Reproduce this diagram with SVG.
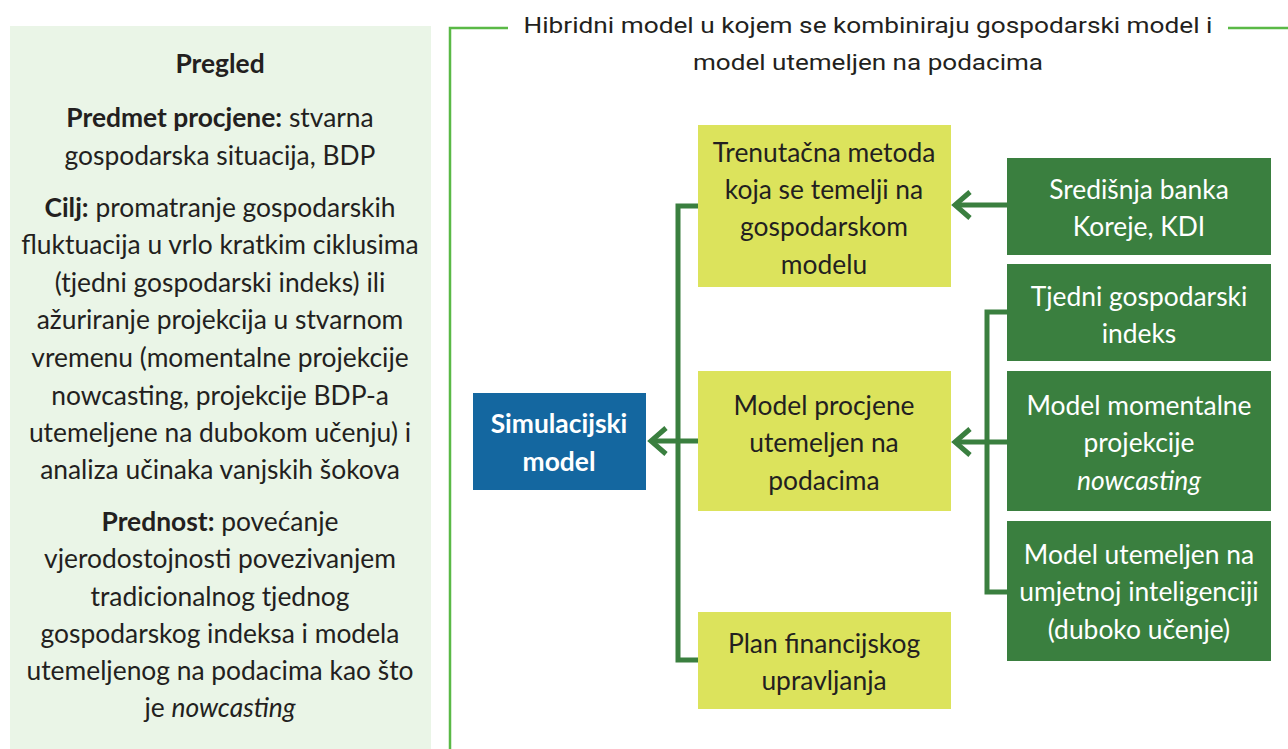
<svg xmlns="http://www.w3.org/2000/svg" width="1288" height="749" viewBox="0 0 1288 749">
<style>
text{font-family:Lato,"Open Sans","Liberation Sans",sans-serif;font-size:26.4px;fill:#231f20;text-anchor:middle}
.b{font-weight:bold}
.i{font-style:italic}
.w{fill:#ffffff}
.title{font-family:Roboto,"Liberation Sans",sans-serif;font-size:22px}
.y{fill:#dce35c}
.g{fill:#3a7f3f}
.conn{fill:none;stroke:#3a7f3f;stroke-width:5}
.frame{fill:none;stroke:#5ab946;stroke-width:2.5}
</style>
<rect width="1288" height="749" fill="#ffffff"/>
<g id="panel">
<rect x="10" y="26" width="421" height="723" fill="#eaf5e7"/>
<text x="220" y="73" class="b" font-size="25">Pregled</text>
<text x="220" y="127"><tspan class="b">Predmet procjene:</tspan> stvarna</text>
<text x="220" y="165">gospodarska situacija, BDP</text>
<text x="220" y="217"><tspan class="b">Cilj:</tspan> promatranje gospodarskih</text>
<text x="220" y="254">fluktuacija u vrlo kratkim ciklusima</text>
<text x="220" y="292">(tjedni gospodarski indeks) ili</text>
<text x="220" y="329">ažuriranje projekcija u stvarnom</text>
<text x="220" y="367">vremenu (momentalne projekcije</text>
<text x="220" y="405">nowcasting, projekcije BDP-a</text>
<text x="220" y="442">utemeljene na dubokom učenju) i</text>
<text x="220" y="479">analiza učinaka vanjskih šokova</text>
<text x="220" y="531"><tspan class="b">Prednost:</tspan> povećanje</text>
<text x="220" y="568">vjerodostojnosti povezivanjem</text>
<text x="220" y="606">tradicionalnog tjednog</text>
<text x="220" y="643">gospodarskog indeksa i modela</text>
<text x="220" y="680">utemeljenog na podacima kao što</text>
<text x="220" y="717">je <tspan class="i">nowcasting</tspan></text>
</g>
<g id="frame">
<path class="frame" d="M450,749 V28 H508 M1228,28 H1288"/>
<text class="title" x="868" y="33" textLength="689" lengthAdjust="spacingAndGlyphs">Hibridni model u kojem se kombiniraju gospodarski model i</text>
<text class="title" x="868" y="70" textLength="350" lengthAdjust="spacingAndGlyphs">model utemeljen na podacima</text>
</g>
<g id="connectors">
<path class="conn" d="M698,206 H678 V660 H698"/>
<path class="conn" d="M698,441 H651"/>
<path class="conn" d="M666,428 L651,441 L666,454"/>
<path class="conn" d="M1007,205 H955"/>
<path class="conn" d="M970,192 L955,205 L970,218"/>
<path class="conn" d="M1007,312 H987 V592 H1007"/>
<path class="conn" d="M1007,442 H955"/>
<path class="conn" d="M970,429 L955,442 L970,455"/>
</g>
<g id="sim">
<rect x="473" y="393" width="173" height="97" fill="#1467a0"/>
<text class="b w" x="559" y="433" font-size="27">Simulacijski</text>
<text class="b w" x="559" y="471" font-size="27">model</text>
</g>
<g id="trenutacna">
<rect class="y" x="698" y="125" width="253" height="162"/>
<text x="824" y="162">Trenutačna metoda</text>
<text x="824" y="199">koja se temelji na</text>
<text x="824" y="236">gospodarskom</text>
<text x="824" y="274">modelu</text>
</g>
<g id="procjena">
<rect class="y" x="698" y="371" width="253" height="140"/>
<text x="824" y="415">Model procjene</text>
<text x="824" y="452">utemeljen na</text>
<text x="824" y="490">podacima</text>
</g>
<g id="plan">
<rect class="y" x="698" y="612" width="253" height="97"/>
<text x="824" y="653">Plan financijskog</text>
<text x="824" y="690">upravljanja</text>
</g>
<g id="banka">
<rect class="g" x="1007" y="158" width="264" height="97"/>
<text class="w" x="1139" y="199">Središnja banka</text>
<text class="w" x="1139" y="236">Koreje, KDI</text>
</g>
<g id="tjedni">
<rect class="g" x="1007" y="264" width="264" height="97"/>
<text class="w" x="1139" y="306">Tjedni gospodarski</text>
<text class="w" x="1139" y="343">indeks</text>
</g>
<g id="nowcasting">
<rect class="g" x="1007" y="371" width="264" height="140"/>
<text class="w" x="1139" y="415">Model momentalne</text>
<text class="w" x="1139" y="452">projekcije</text>
<text class="w i" x="1139" y="490">nowcasting</text>
</g>
<g id="ai">
<rect class="g" x="1007" y="521" width="264" height="140"/>
<text class="w" x="1139" y="564">Model utemeljen na</text>
<text class="w" x="1139" y="601">umjetnoj inteligenciji</text>
<text class="w" x="1139" y="639">(duboko učenje)</text>
</g>
</svg>
